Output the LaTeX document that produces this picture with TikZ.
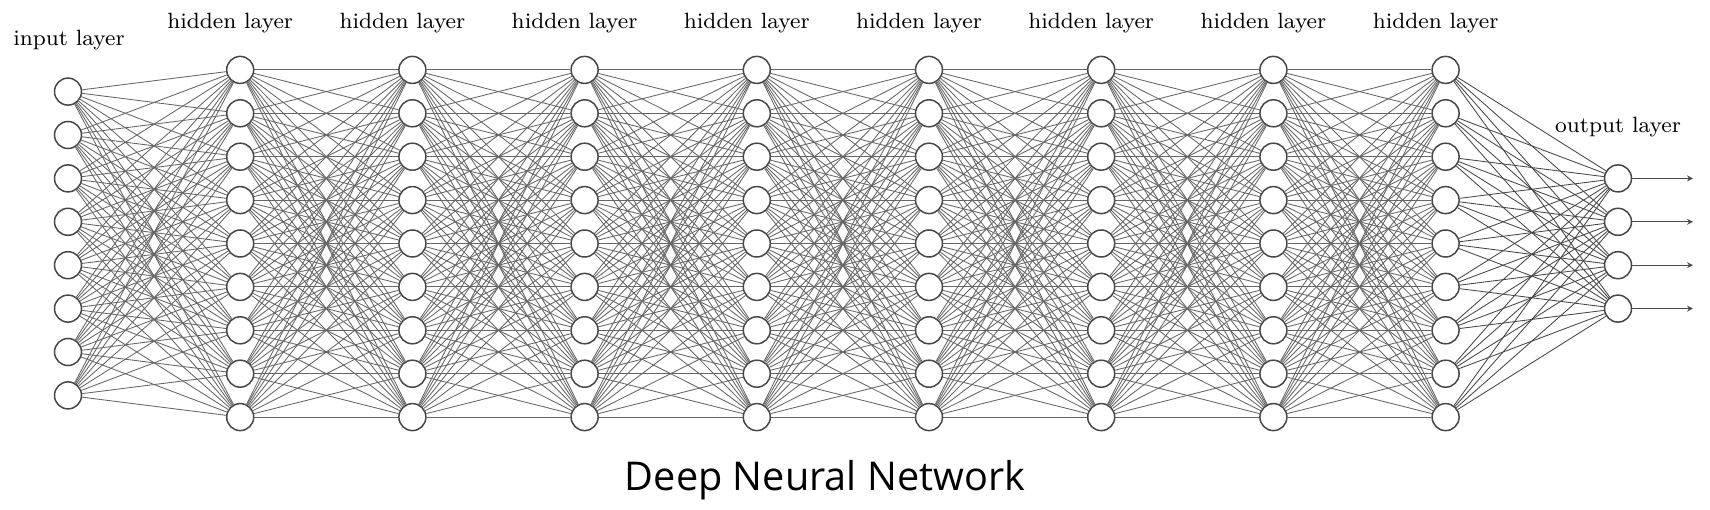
\documentclass[tikz,border=0pt]{standalone}
\usepackage{fontspec}
\newfontfamily\capfont{Open Sans}
\usetikzlibrary{arrows.meta}
\pgfdeclarelayer{paper}
\pgfdeclarelayer{bg}
\pgfsetlayers{paper,bg,main}
\tikzset{
  neuron/.style={circle,draw=black!72,line width=1.5pt,fill=white,minimum size=27pt,inner sep=0pt},
  conn/.style={draw=black!60,line width=0.85pt},
  outarrow/.style={draw=black!70,line width=1pt,-{Stealth[length=6pt,width=6pt]}},
  lbl/.style={anchor=base,inner sep=0pt},
}
\newcommand{\lyrtext}[1]{\scalebox{2.76}{\fontsize{8}{9}\selectfont #1}}
\begin{document}
\begin{tikzpicture}[x=1pt,y=-1pt]
\useasboundingbox (0,0) rectangle (1710,510);
\begin{pgfonlayer}{paper}
\fill[white] (0,0) rectangle (1710,510);
\end{pgfonlayer}
% nodes
\foreach \j in {1,...,8}
  \node[neuron] (I-\j) at (68,{243.5+(\j-4.5)*43.4}) {};
\foreach \k in {1,...,8}
  \foreach \j in {1,...,9}
    \node[neuron] (H\k-\j) at ({68+172.2*\k},{243.5+(\j-5)*43.4}) {};
\foreach \j in {1,...,4}
  \node[neuron] (O-\j) at (1618,{243.5+(\j-2.5)*43.4}) {};
% connections
\begin{pgfonlayer}{bg}
\foreach \a in {1,...,8}
  \foreach \b in {1,...,9}
    \draw[conn] (I-\a) -- (H1-\b);
\foreach \k [count=\n from 2] in {1,...,7}
  \foreach \a in {1,...,9}
    \foreach \b in {1,...,9}
      \draw[conn] (H\k-\a) -- (H\n-\b);
\foreach \a in {1,...,9}
  \foreach \b in {1,...,4}
    \draw[conn,draw=black!72] (H8-\a) -- (O-\b);
\end{pgfonlayer}
% output arrows
\foreach \j in {1,...,4}{
  \coordinate (E-\j) at (1693,{243.5+(\j-2.5)*43.4});
  \draw[outarrow] (O-\j) -- (E-\j);
}
% labels
\node[lbl] (LI) at (69,46) {\lyrtext{input layer}};
\foreach \k in {1,...,8}
  \node[lbl] (LH\k) at ({58+172.2*\k},29) {\lyrtext{hidden layer}};
\node[lbl] (LO) at (1618,133) {\lyrtext{output layer}};
\node[lbl] (T) at (825,490) {\resizebox{400pt}{!}{\capfont Deep Neural Network}};
\end{tikzpicture}
\end{document}
